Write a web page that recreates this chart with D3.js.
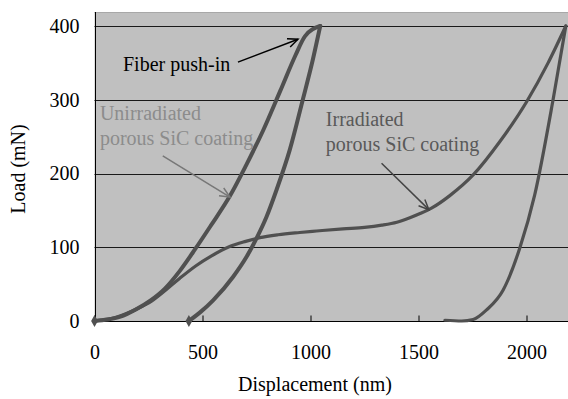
<!DOCTYPE html>
<html>
<head>
<meta charset="utf-8">
<script src="https://cdn.jsdelivr.net/npm/d3@7"></script>
<style>
html,body{margin:0;padding:0;background:#fff;}
svg{display:block;font-family:"Liberation Serif","Times New Roman",serif;}
</style>
</head>
<body>
<svg id="chart" width="568" height="399"></svg>
<script>
// ---- data (displacement nm, load mN) ----
const xTicks = [0, 500, 1000, 1500, 2000];
const yTicks = [0, 100, 200, 300, 400];
const xLabel = "Displacement (nm)";
const yLabel = "Load (mN)";

const unirrLoading = [[0,0],[60,2],[120,6],[187,15],[260,28],[326,44],[395,68],[465,97],[540,130],[626,169],[700,210],[780,258],[860,312],[930,360],[974,386],[1045,400]];
const unirrUnloading = [[1045,400],[1012,356],[966,302],[904,232],[843,178],[796,141],[750,112],[704,87],[642,60],[549,28],[490,12],[437,0]];
const irrLoading = [[0,0],[100,5],[200,17],[264,27],[330,42],[395,58],[470,75],[540,88],[626,101],[700,108],[765,113],[850,117],[950,120],[1028,122],[1150,125],[1250,127],[1330,130],[1400,134],[1460,140],[1510,146],[1560,153],[1645,170],[1753,198],[1876,243],[2000,297],[2100,350],[2182,400]];
const irrUnloading = [[2182,400],[2123,300],[2038,171],[1969,99],[1892,42],[1815,15],[1753,2],[1700,0],[1622,1]];
const unirrMarkers = [[0,0],[437,0]];

const annotations = [
  {lines:["Fiber push-in"], x:132, y:339, color:"#000", arrow:[[664,351],[942,382]], arrowColor:"#000"},
  {lines:["Unirradiated","porous SiC coating"], x:25, y:272, color:"#8c8c8c", arrow:[[316,224],[627,168]], arrowColor:"#777"},
  {lines:["Irradiated","porous SiC coating"], x:1071, y:264, color:"#595959", arrow:[[1329,214],[1548,151]], arrowColor:"#444"}
];

// ---- layout ----
const svg = d3.select("#chart");
const x = d3.scaleLinear().domain([0, 2200]).range([94.5, 569.7]);
const y = d3.scaleLinear().domain([0, 400]).range([321, 26]);
const plotTop = 12, plotRight = 568;

svg.append("rect").attr("x", x(0)).attr("y", plotTop)
  .attr("width", plotRight - x(0)).attr("height", y(0) - plotTop)
  .attr("fill", "#c0c0c0");
svg.append("line").attr("x1", x(0)).attr("x2", plotRight).attr("y1", plotTop + 0.5).attr("y2", plotTop + 0.5)
  .attr("stroke", "#a8a8a8").attr("stroke-width", 1);

// gridlines
svg.append("g").selectAll("line").data(yTicks.filter(d => d > 0)).join("line")
  .attr("x1", x(0)).attr("x2", plotRight)
  .attr("y1", d => Math.round(y(d)) + 0.5).attr("y2", d => Math.round(y(d)) + 0.5)
  .attr("stroke", "#1a1a1a").attr("stroke-width", 1);

// axes
const xAxis = d3.axisBottom(x).tickValues(xTicks).tickFormat(d3.format("d"))
  .tickSizeInner(-6).tickSizeOuter(0).tickPadding(23);
const gx = svg.append("g").attr("transform", `translate(0,${Math.round(y(0)) + 0.5})`).call(xAxis);
gx.select(".domain").attr("d", `M${x(0)},0H${plotRight}`).attr("stroke", "#000");
gx.selectAll(".tick line").attr("stroke", "#000");
gx.selectAll(".tick text").attr("font-size", 20).attr("font-family", "Liberation Serif").attr("fill", "#000");

const yAxis = d3.axisLeft(y).tickValues(yTicks).tickFormat(d3.format("d")).tickSize(0).tickPadding(16);
const gy = svg.append("g").attr("transform", `translate(${Math.round(x(0)) + 0.5},0)`).call(yAxis);
gy.select(".domain").attr("d", `M0,${y(0)}V${plotTop}`).attr("stroke", "#000");
gy.selectAll(".tick text").attr("font-size", 20).attr("font-family", "Liberation Serif").attr("fill", "#000");

// axis titles
svg.append("text").attr("x", 315).attr("y", 391).attr("text-anchor", "middle")
  .attr("font-size", 20).text(xLabel);
svg.append("text").attr("transform", "translate(25,169) rotate(-90)").attr("text-anchor", "middle")
  .attr("font-size", 20).text(yLabel);

// curves (drawn in ascending displacement order for monotone interpolation)
const line = d3.line().x(d => x(d[0])).y(d => y(d[1])).curve(d3.curveMonotoneX);
const asc = arr => arr.slice().sort((a, b) => a[0] - b[0]);
const g = svg.append("g");
[[irrLoading, 3.2], [irrUnloading, 3.2], [unirrLoading, 4], [unirrUnloading, 4]].forEach(([data, w]) => {
  g.append("path").attr("d", line(asc(data))).attr("fill", "none")
    .attr("stroke", "#505050").attr("stroke-width", w).attr("stroke-linejoin", "round").attr("stroke-linecap", "round");
});
g.selectAll(".mk").data(unirrMarkers).join("path").attr("class", "mk")
  .attr("transform", d => `translate(${x(d[0])},${y(d[1])})`)
  .attr("d", d3.symbol(d3.symbolDiamond, 40)).attr("fill", "#505050");

// annotations
annotations.forEach(a => {
  const t = svg.append("text").attr("x", x(a.x)).attr("y", y(a.y)).attr("font-size", 20).attr("fill", a.color);
  a.lines.forEach((l, i) => t.append("tspan").attr("x", x(a.x)).attr("dy", i === 0 ? 0 : 24.5).text(l));
  const [p0, p1] = a.arrow;
  const x0 = x(p0[0]), y0 = y(p0[1]), x1 = x(p1[0]), y1 = y(p1[1]);
  svg.append("line").attr("x1", x0).attr("y1", y0).attr("x2", x1).attr("y2", y1)
    .attr("stroke", a.arrowColor).attr("stroke-width", 1.5);
  const ang = Math.atan2(y1 - y0, x1 - x0), L = 11, sp = 0.42;
  const h = [ang + Math.PI - sp, ang + Math.PI + sp].map(t2 => [x1 + L * Math.cos(t2), y1 + L * Math.sin(t2)]);
  svg.append("path").attr("d", `M${h[0][0]},${h[0][1]}L${x1},${y1}L${h[1][0]},${h[1][1]}`)
    .attr("fill", "none").attr("stroke", a.arrowColor).attr("stroke-width", 1.5);
});
</script>
</body>
</html>
